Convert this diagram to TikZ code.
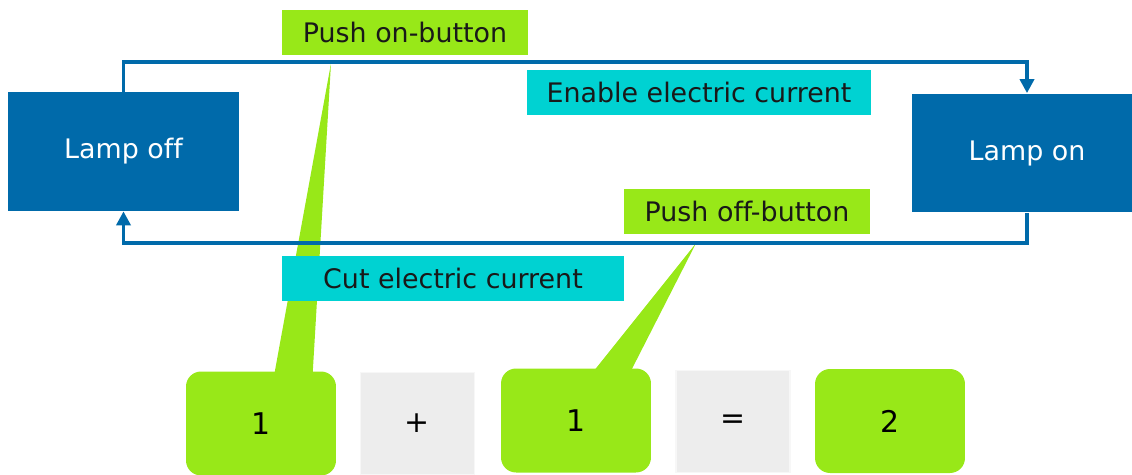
\documentclass[tikz,border=0pt]{standalone}
\usepackage{fontspec}
\setmainfont[Ligatures=NoCommon]{DejaVu Sans}
\usetikzlibrary{arrows.meta,calc,backgrounds}
\definecolor{LampClr}{RGB}{0,106,170}
\definecolor{PushClr}{RGB}{152,232,24}
\definecolor{CurrentClr}{RGB}{0,210,210}
\definecolor{OpClr}{RGB}{237,237,237}
\definecolor{OpEdgeClr}{RGB}{247,247,247}

\begin{document}
\begin{tikzpicture}[x=0.02cm,y=-0.02cm,
  lamp/.style={rectangle,fill=LampClr,text=white,minimum width=4.62cm,minimum height=2.38cm,font=\fontsize{15.3}{18}\selectfont},
  tag/.style={rectangle,minimum height=0.9cm,text=black!90,font=\fontsize{15.3}{18}\selectfont},
  push/.style={tag,fill=PushClr,minimum width=4.92cm},
  current/.style={tag,fill=CurrentClr},
  count/.style={rectangle,rounded corners=0.3cm,fill=PushClr,minimum width=3cm,minimum height=2.08cm,font=\fontsize{17}{20}\selectfont},
  op/.style={rectangle,fill=OpClr,draw=OpEdgeClr,line width=1pt,minimum width=2.28cm,minimum height=2.04cm,font=\fontsize{17}{20}\selectfont},
  flow/.style={draw=LampClr,line width=2.2pt,-{Triangle[width=8pt,length=8pt]}},
  pointer/.style={fill=PushClr}]

\useasboundingbox (0,0) rectangle (1132,474);

\node[lamp] (lampoff) at (123.5,151.5) {Lamp off};
\node[lamp] (lampon) at (1027,153) {Lamp on};

\node[push] (onlabel) at (405,32.5) {Push on-button};
\node[current,minimum width=6.88cm] (enable) at (699,92.5) {Enable electric current};
\node[push] (offlabel) at (747,211.5) {Push off-button};
\node[current,minimum width=6.84cm] (cut) at (453,278.5) {Cut electric current};

\node[count] (onea) at (261,423.5) {1};
\node[op] (plus) at (417.5,423.5) {+};
\node[count] (oneb) at (576,420.5) {1};
\node[op] (equals) at (733,421.5) {=};
\node[count] (two) at (890,421) {2};

\draw[flow] (lampoff.north) -- ++(0,-30) -| (lampon.north);
\draw[flow] (lampon.south) -- ++(0,30) -| (lampoff.south);

\begin{scope}[on background layer]
\fill[pointer] ($(onlabel.south west)!.2!(onlabel.south east)+(0,8)$)
  -- ($(onea.north west)!.58!(onea.north east)+(0,10)$)
  -- ($(onea.north west)!.84!(onea.north east)+(0,10)$) -- cycle;
\fill[pointer] ($(offlabel.south west)!.293!(offlabel.south east)+(0,9)$)
  -- ($(oneb.north west)!.58!(oneb.north east)+(0,10)$)
  -- ($(oneb.north west)!.84!(oneb.north east)+(0,10)$) -- cycle;
\end{scope}

\end{tikzpicture}
\end{document}
